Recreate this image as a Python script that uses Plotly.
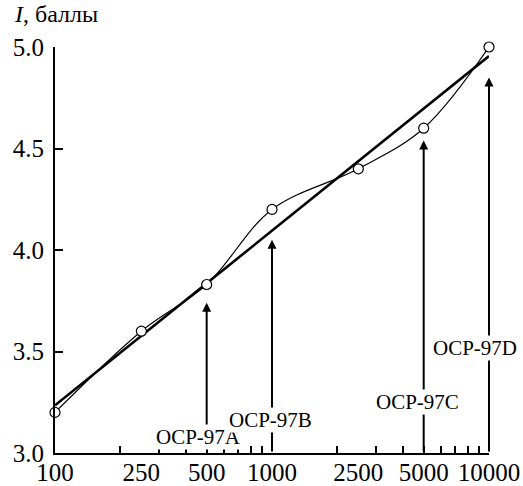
import numpy as np
import plotly.graph_objects as go

# Data
dose = [100, 250, 500, 1000, 2500, 5000, 10000]
intensity = [3.20, 3.60, 3.83, 4.20, 4.40, 4.60, 5.00]
fit_x = [100, 10000]
fit_y = [3.235, 4.955]

arrow_names = ["OCP-97A", "OCP-97B", "OCP-97C", "OCP-97D"]
arrow_x = [500, 1000, 5000, 10000]
arrow_tip = [3.74, 4.05, 4.54, 4.85]
arrow_base = [3.125, 3.0, 3.0, 3.0]
label_x = [456, 980, 4660, 8610]
label_y = [3.079, 3.163, 3.251, 3.517]

xtick_vals = [100, 250, 500, 1000, 2500, 5000, 10000]
xtick_text = ["100", "250", "500", "1000", "2500", "5000", "10000"]
minor_vals = [v * m for v in (100, 1000) for m in range(2, 10)]
ytick_vals = [3.0, 3.5, 4.0, 4.5, 5.0]
ytick_text = ["3.0", "3.5", "4.0", "4.5", "5.0"]

FONT = "Liberation Serif, Times New Roman, serif"

fig = go.Figure()
fig.add_trace(go.Scatter(x=fit_x, y=fit_y, mode="lines",
                         line=dict(color="black", width=2.6),
                         cliponaxis=False, showlegend=False))
fig.add_trace(go.Scatter(x=dose, y=intensity, mode="lines+markers",
                         line=dict(color="black", width=1.2, shape="spline", smoothing=1.0),
                         marker=dict(symbol="circle", size=10, color="white",
                                     line=dict(color="black", width=1.2)),
                         cliponaxis=False, showlegend=False))

annotations = []
for xv, tip, base in zip(arrow_x, arrow_tip, arrow_base):
    annotations.append(dict(x=np.log10(xv), y=tip, ax=np.log10(xv), ay=base,
                            xref="x", yref="y", axref="x", ayref="y",
                            text="", showarrow=True, arrowhead=2, arrowsize=0.9,
                            arrowwidth=2, arrowcolor="black", standoff=0))
for name, lx, ly in zip(arrow_names, label_x, label_y):
    annotations.append(dict(x=np.log10(lx), y=ly, xref="x", yref="y",
                            text=name, showarrow=False, bgcolor="white",
                            borderpad=0,
                            font=dict(family=FONT, size=21, color="black"),
                            xanchor="center", yanchor="middle"))
annotations.append(dict(x=-0.099, y=1.081, xref="paper", yref="paper",
                        text="<i>I</i>, баллы", showarrow=False,
                        font=dict(family=FONT, size=24, color="black"),
                        xanchor="left", yanchor="middle"))

fig.update_layout(
    width=523, height=486,
    margin=dict(l=55, r=34, t=47, b=33),
    plot_bgcolor="white", paper_bgcolor="white",
    annotations=annotations,
    xaxis=dict(type="log", range=[2, 4], showgrid=False, zeroline=False,
               automargin=False,
               showline=True, linecolor="black", linewidth=2,
               tickmode="array", tickvals=xtick_vals, ticktext=xtick_text,
               ticks="", ticklabelstandoff=-4,
               minor=dict(ticks="inside", tickvals=minor_vals, ticklen=7,
                          tickwidth=1.5, tickcolor="black", showgrid=False),
               tickfont=dict(family=FONT, size=25, color="black")),
    yaxis=dict(range=[3.0, 5.0], showgrid=False, zeroline=False,
               automargin=False,
               showline=True, linecolor="black", linewidth=2,
               tickmode="array", tickvals=ytick_vals, ticktext=ytick_text,
               ticks="inside", ticklen=8, tickwidth=2, tickcolor="black",
               ticklabelstandoff=4,
               tickfont=dict(family=FONT, size=25, color="black")),
)

fig.write_html("out.html")
